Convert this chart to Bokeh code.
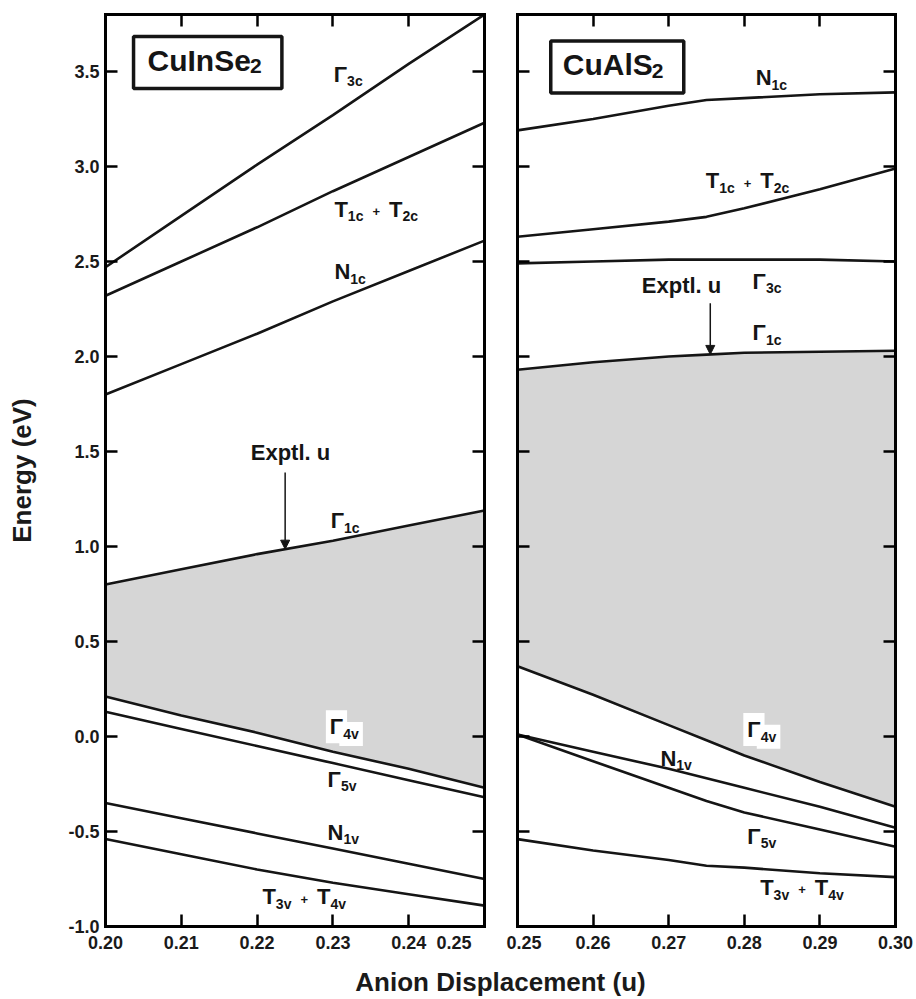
import numpy as np
from bokeh.plotting import figure
from bokeh.layouts import row, column
from bokeh.models import (Range1d, LinearAxis, FixedTicker, PrintfTickFormatter,
                          ColumnDataSource, Arrow, NormalHead)
from bokeh.core.properties import value, field
from bokeh.embed import file_html
from bokeh.resources import INLINE

FONT = "Liberation Sans"

# ---------------- data ----------------
# CuInSe2 panel
u_left = [0.20, 0.21, 0.22, 0.23, 0.24, 0.25]
cis_G3c = [2.47, 2.74, 3.01, 3.27, 3.54, 3.80]
cis_T1c_T2c = [2.32, 2.50, 2.68, 2.87, 3.05, 3.23]
cis_N1c = [1.80, 1.96, 2.12, 2.29, 2.45, 2.61]
cis_G1c = [0.80, 0.88, 0.96, 1.03, 1.11, 1.19]
cis_G4v = [0.21, 0.11, 0.02, -0.08, -0.17, -0.27]
cis_G5v = [0.13, 0.04, -0.05, -0.14, -0.23, -0.32]
cis_N1v = [-0.35, -0.43, -0.51, -0.59, -0.67, -0.75]
cis_T3v_T4v = [-0.54, -0.62, -0.70, -0.77, -0.83, -0.89]

# CuAlS2 panel
u_right = [0.25, 0.26, 0.27, 0.275, 0.28, 0.29, 0.30]
cas_N1c = [3.19, 3.25, 3.32, 3.35, 3.36, 3.38, 3.39]
cas_T1c_T2c = [2.63, 2.67, 2.71, 2.735, 2.78, 2.88, 2.99]
cas_G3c = [2.49, 2.50, 2.51, 2.51, 2.51, 2.51, 2.50]
cas_G1c = [1.93, 1.97, 2.00, 2.01, 2.02, 2.025, 2.03]
cas_G4v = [0.37, 0.22, 0.06, -0.02, -0.10, -0.24, -0.37]
cas_G5v = [0.01, -0.13, -0.27, -0.34, -0.40, -0.49, -0.58]
cas_N1v = [0.01, -0.08, -0.17, -0.22, -0.27, -0.37, -0.48]
cas_T3v_T4v = [-0.54, -0.60, -0.65, -0.68, -0.69, -0.72, -0.74]

# experimental u and arrow start energies
exptl_u_cis = 0.2237
exptl_arrow_top_cis = 1.39
exptl_u_cas = 0.2755
exptl_arrow_top_cas = 2.28
exptl_text = "Exptl. u"
exptl_text_pos_cis = (0.2244, 1.45)
exptl_text_pos_cas = (0.2717, 2.33)

# ticks
x_ticks_left = [0.20, 0.21, 0.22, 0.23, 0.24, 0.25]
x_ticks_right = [0.25, 0.26, 0.27, 0.28, 0.29, 0.30]
y_ticks = [-1.0, -0.5, 0.0, 0.5, 1.0, 1.5, 2.0, 2.5, 3.0, 3.5]
y_min, y_max = -1.0, 3.8

# band labels: (u, E of baseline, [(main, sub), ...], white background)
cis_labels = [
    (0.2301, 3.44, [("Γ", "3c")], False),
    (0.2302, 2.73, [("T", "1c"), ("T", "2c")], False),
    (0.2302, 2.40, [("N", "1c")], False),
    (0.2297, 1.09, [("Γ", "1c")], False),
    (0.2296, 0.005, [("Γ", "4v")], True),
    (0.2293, -0.27, [("Γ", "5v")], False),
    (0.2293, -0.55, [("N", "1v")], False),
    (0.2207, -0.89, [("T", "3v"), ("T", "4v")], False),
]
cas_labels = [
    (0.2815, 3.42, [("N", "1c")], False),
    (0.2749, 2.88, [("T", "1c"), ("T", "2c")], False),
    (0.2811, 2.35, [("Γ", "3c")], False),
    (0.2811, 2.08, [("Γ", "1c")], False),
    (0.2804, -0.01, [("Γ", "4v")], True),
    (0.2689, -0.16, [("N", "1v")], False),
    (0.2804, -0.57, [("Γ", "5v")], False),
    (0.2821, -0.84, [("T", "3v"), ("T", "4v")], False),
]
# title boxes: (main, subscript, u of box left, E of box centre)
cis_title = ("CuInSe", "2", 0.2037, 3.547)
cas_title = ("CuAlS", "2", 0.2544, 3.524)

# ---------------- layout constants ----------------
FH = 912
TOP, BOTTOM = 14, 36
FW1, BL1, BR1 = 379, 105, 17
FW2, BL2, BR2 = 378, 16, 21
XLAB_H = 999 - (TOP + FH + BOTTOM)
K = 0.40  # centre-to-baseline offset of Bokeh text boxes, in font-size units

W = {"Γ": 0.611, "T": 0.611, "N": 0.722, "c": 0.556, "v": 0.556, "+": 0.584,
     " ": 0.278, "C": 0.722, "u": 0.611, "I": 0.278, "n": 0.611, "S": 0.667,
     "e": 0.556, "A": 0.722, "l": 0.278}
for d in "0123456789":
    W[d] = 0.556


def tw(s, size):
    return sum(W.get(ch, 0.6) for ch in s) * size


MAIN, SUB, PLUS = 22, 14, 13
BGPAD = 4


def build_label_source(labels, want_bg):
    rows = dict(x=[], y=[], text=[], size=[], xo=[], yo=[], xob=[])

    def add(u, e, t, size, xo, shift):
        rows["x"].append(u); rows["y"].append(e); rows["text"].append(t)
        rows["size"].append(f"{size}px"); rows["xo"].append(xo)
        rows["xob"].append(xo - BGPAD)
        rows["yo"].append(-K * size + shift)

    for u, e, pairs, bg in labels:
        if bg != want_bg:
            continue
        cur = 0.0
        for k, (m, s) in enumerate(pairs):
            if k > 0:
                pad = 9
                add(u, e, "+", PLUS, cur + pad, -1)
                cur += 2 * pad + tw("+", PLUS)
            add(u, e, m, MAIN, cur, 0)
            cur += tw(m, MAIN)
            add(u, e, s, SUB, cur, 4)
            cur += tw(s, SUB)
    return ColumnDataSource(rows)


def style_axis(ax, show_labels):
    ax.axis_line_width = 3
    ax.axis_line_color = "black"
    ax.axis_line_cap = "square"
    ax.major_tick_in = 12
    ax.major_tick_out = 0
    ax.major_tick_line_width = 2.5
    ax.major_tick_line_color = "black"
    ax.minor_tick_line_color = None
    ax.major_label_text_font = FONT
    ax.major_label_text_font_style = "bold"
    ax.major_label_text_font_size = "18px"
    if show_labels:
        ax.major_label_text_color = "#1a1a1a"
    else:
        ax.major_label_text_color = None
        ax.major_label_standoff = 0


def make_panel(x0, x1, xticks, fw, bl, br, ylabels, overrides):
    p = figure(frame_width=fw, frame_height=FH,
               x_range=Range1d(x0, x1), y_range=Range1d(y_min, y_max),
               output_backend="svg", toolbar_location=None,
               x_axis_location=None, y_axis_location=None,
               min_border_left=bl, min_border_right=br,
               min_border_top=TOP, min_border_bottom=BOTTOM)
    p.xgrid.visible = False
    p.ygrid.visible = False
    p.outline_line_color = "black"
    p.outline_line_width = 3
    p.background_fill_color = "white"
    p.border_fill_color = "white"

    below = LinearAxis(ticker=FixedTicker(ticks=xticks),
                       formatter=PrintfTickFormatter(format="%.2f"))
    style_axis(below, True)
    below.major_label_standoff = 6
    below.major_label_overrides = overrides
    p.add_layout(below, "below")

    above = LinearAxis(ticker=FixedTicker(ticks=xticks))
    style_axis(above, False)
    p.add_layout(above, "above")

    left = LinearAxis(ticker=FixedTicker(ticks=y_ticks),
                      formatter=PrintfTickFormatter(format="%.1f"))
    style_axis(left, ylabels)
    if ylabels:
        left.major_label_standoff = 6
        left.axis_label = "Energy (eV)"
        left.axis_label_text_font = FONT
        left.axis_label_text_font_style = "bold"
        left.axis_label_text_font_size = "26px"
        left.axis_label_text_color = "#1a1a1a"
        left.axis_label_standoff = 28
    p.add_layout(left, "left")

    right = LinearAxis(ticker=FixedTicker(ticks=y_ticks))
    style_axis(right, False)
    p.add_layout(right, "right")
    return p


def draw_panel(p, u, bands, gap_low, gap_high, labels, title, ex_u, ex_top, ex_text_pos):
    p.varea(x=u, y1=gap_low, y2=gap_high, fill_color="#d6d6d6")
    for b in bands:
        p.line(u, b, line_width=2.6, line_color="#151515")

    common = dict(x="x", y="y", text="text", text_font=value(FONT),
                  text_font_style="bold", text_font_size=field("size"),
                  y_offset="yo", text_align="left", text_baseline="middle")
    src = build_label_source(labels, False)
    p.text(source=src, x_offset="xo", text_color="#151515", **common)
    src_bg = build_label_source(labels, True)
    # white boxes behind labels lying inside the shaded gap
    p.text(source=src_bg, x_offset="xob", text_color="#151515", text_alpha=0,
           background_fill_color="white", padding=BGPAD, **common)
    p.text(source=src_bg, x_offset="xo", text_color="#151515", **common)

    # title box
    main, sub, tu, te = title
    pl = 14 if main == "CuInSe" else 12
    p.text(x=[tu], y=[te], text=[main], text_font=value(FONT), text_font_style="bold",
           text_font_size="30px", text_align="left", text_baseline="middle",
           text_color="#151515", background_fill_color="white",
           border_line_color="#151515", border_line_width=3.5,
           padding=dict(left=pl, right=31, top=7, bottom=12))
    p.text(x=[tu], y=[te], text=[sub], text_font=value(FONT), text_font_style="bold",
           text_font_size="21px", text_align="left", text_baseline="middle",
           text_color="#151515", x_offset=pl + tw(main, 30) - 1, y_offset=12 - K * 21)

    # experimental u arrow and label
    ex_end = float(np.interp(ex_u, u, gap_high))
    p.add_layout(Arrow(end=NormalHead(size=9, fill_color="#151515", line_color="#151515",
                                      line_width=1),
                       x_start=ex_u, y_start=ex_top, x_end=ex_u, y_end=ex_end,
                       line_width=1.5, line_color="#151515"))
    p.text(x=[ex_text_pos[0]], y=[ex_text_pos[1]], text=[exptl_text], text_font=value(FONT),
           text_font_style="bold", text_font_size="22px", text_align="center",
           text_baseline="middle", y_offset=-K * 22, text_color="#151515")


NB = "\u00a0"
p1 = make_panel(0.20, 0.25, x_ticks_left, FW1, BL1, BR1, True, {0.25: "0.25" + NB * 6})
draw_panel(p1, u_left,
           [cis_G3c, cis_T1c_T2c, cis_N1c, cis_G1c, cis_G4v, cis_G5v, cis_N1v, cis_T3v_T4v],
           cis_G4v, cis_G1c, cis_labels, cis_title,
           exptl_u_cis, exptl_arrow_top_cis, exptl_text_pos_cis)

p2 = make_panel(0.25, 0.30, x_ticks_right, FW2, BL2, BR2, False, {0.25: NB + "0.25"})
draw_panel(p2, u_right,
           [cas_N1c, cas_T1c_T2c, cas_G3c, cas_G1c, cas_G4v, cas_G5v, cas_N1v, cas_T3v_T4v],
           cas_G4v, cas_G1c, cas_labels, cas_title,
           exptl_u_cas, exptl_arrow_top_cas, exptl_text_pos_cas)

# shared x-axis title below both panels
total_w = BL1 + FW1 + BR1 + BL2 + FW2 + BR2
p3 = figure(width=total_w, height=XLAB_H, x_range=Range1d(0, total_w),
            y_range=Range1d(0, XLAB_H), output_backend="svg", toolbar_location=None,
            x_axis_location=None, y_axis_location=None, min_border=0)
p3.xgrid.visible = False
p3.ygrid.visible = False
p3.outline_line_color = None
center_x = (BL1 + (BL1 + FW1 + BR1 + BL2 + FW2)) / 2
p3.text(x=[center_x], y=[XLAB_H - 19.5], text=["Anion Displacement (u)"],
        text_font=value(FONT), text_font_style="bold", text_font_size="26px",
        text_align="center", text_baseline="middle", text_color="#1a1a1a")

layout = column(row(p1, p2), p3)
open("out.html", "w").write(file_html(layout, INLINE))
